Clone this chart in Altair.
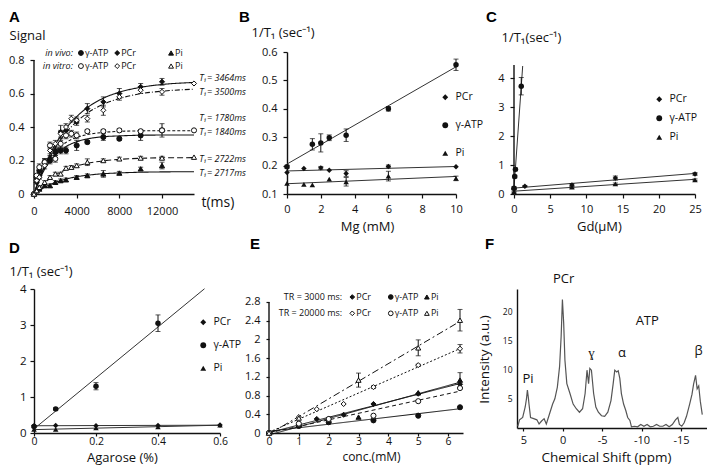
import altair as alt
import pandas as pd

FONT = "Open Sans"
LETTER_FONT = "Liberation Sans"
INK = "#111111"
FIT = "#333333"

# ======================= DATA =======================
A_X_TICKS = [0, 4000, 8000, 12000]
A_Y_TICKS = [0, 0.2, 0.4, 0.6, 0.8]
A_SERIES = ["vivo γ-ATP", "vivo PCr", "vivo Pi", "vitro γ-ATP", "vitro PCr", "vitro Pi"]
A_T_VIVO = [0, 250, 500, 1000, 1500, 2000, 2500, 3000, 4000, 5000, 6500, 8000, 10000, 12000]
A_VIVO_GATP = [0, 0.10, 0.14, 0.19, 0.20, 0.25, 0.26, 0.26, 0.29, 0.31, 0.34, 0.33, 0.35, 0.38]
A_VIVO_GATP_ERR = [0, 0.01, 0.02, 0.02, 0.02, 0.02, 0.02, 0.02, 0.03, 0.01, 0.02, 0.01, 0.03, 0.04]
A_VIVO_PCR = [0, 0.07, 0.11, 0.19, 0.21, 0.26, 0.37, 0.38, 0.43, 0.51, 0.55, 0.60, 0.64, 0.67]
A_VIVO_PCR_ERR = [0, 0.01, 0.02, 0.02, 0.02, 0.02, 0.04, 0.03, 0.02, 0.03, 0.03, 0.03, 0.02, 0.02]
A_VIVO_PI = [0, 0.02, 0.03, 0.05, 0.05, 0.07, 0.08, 0.085, 0.10, 0.11, 0.12, 0.125, 0.15, 0.17]
A_VIVO_PI_ERR = [0, 0, 0.01, 0.01, 0.01, 0.01, 0.01, 0.01, 0.01, 0.01, 0.02, 0.01, 0.01, 0.02]
A_T_VITRO = [0, 250, 500, 1000, 1500, 2000, 2500, 3000, 3500, 4000, 5000, 6500, 8000, 10000, 12000, 15000]
A_VITRO_GATP = [0, 0.11, 0.16, 0.19, 0.29, 0.21, 0.30, 0.35, 0.36, 0.35, 0.375, 0.375, 0.38, 0.375, 0.38, 0.38]
A_VITRO_GATP_ERR = [0, 0.01, 0.02, 0.02, 0.02, 0.02, 0.02, 0.02, 0.02, 0.02, 0.01, 0.01, 0.01, 0.01, 0.01, 0]
A_VITRO_PCR = [0, 0.08, 0.10, 0.17, 0.26, 0.30, 0.36, 0.40, 0.45, 0.44, 0.45, 0.50, 0.58, 0.62, 0.61, 0.66]
A_VITRO_PCR_ERR = [0, 0.01, 0.01, 0.02, 0.02, 0.02, 0.02, 0.02, 0.02, 0.02, 0.02, 0.03, 0.02, 0.02, 0.02, 0]
A_VITRO_PI = [0, 0.02, 0.04, 0.07, 0.10, 0.12, 0.12, 0.155, 0.16, 0.17, 0.19, 0.20, 0.21, 0.215, 0.215, 0.22]
A_VITRO_PI_ERR = [0, 0, 0.01, 0.01, 0.01, 0.01, 0.01, 0.01, 0.01, 0.01, 0.02, 0.01, 0.01, 0.01, 0.01, 0]
A_FIT_T = [0, 500, 1000, 1500, 2000, 3000, 4000, 5000, 6500, 8000, 10000, 12000, 15000]
A_FIT_VIVO_GATP = [0, 0.084, 0.148, 0.196, 0.233, 0.283, 0.312, 0.329, 0.342, 0.347, 0.351, 0.352, 0.352]
A_FIT_VIVO_PCR = [0, 0.091, 0.169, 0.237, 0.296, 0.391, 0.462, 0.516, 0.572, 0.608, 0.637, 0.654, 0.666]
A_FIT_VIVO_PI = [0, 0.022, 0.041, 0.056, 0.069, 0.089, 0.103, 0.112, 0.121, 0.126, 0.130, 0.132, 0.133]
A_FIT_VITRO_GATP = [0, 0.093, 0.162, 0.215, 0.255, 0.308, 0.338, 0.355, 0.368, 0.374, 0.377, 0.378, 0.378]
A_FIT_VITRO_PCR = [0, 0.085, 0.158, 0.221, 0.276, 0.366, 0.432, 0.483, 0.536, 0.570, 0.599, 0.614, 0.626]
A_FIT_VITRO_PI = [0, 0.037, 0.067, 0.092, 0.113, 0.146, 0.168, 0.183, 0.198, 0.207, 0.213, 0.216, 0.217]
A_T1_TEXT = ["T₁= 3464ms", "T₁= 3500ms", "T₁= 1780ms", "T₁= 1840ms", "T₁= 2722ms", "T₁= 2717ms"]

SPECIES = ["PCr", "γ-ATP", "Pi"]
B_X_TICKS = [0, 2, 4, 6, 8, 10]
B_Y_TICKS = [0.1, 0.2, 0.3, 0.4, 0.5, 0.6]
B_PCR_X = [0, 1, 2, 2.5, 3.5, 6, 10]
B_PCR = [0.176, 0.190, 0.192, 0.184, 0.172, 0.197, 0.196]
B_PCR_ERR = [0, 0, 0.005, 0, 0.01, 0.005, 0]
B_GATP_X = [0, 1.5, 2, 2.5, 3.5, 6, 10]
B_GATP = [0.196, 0.275, 0.280, 0.298, 0.307, 0.400, 0.555]
B_GATP_ERR = [0.005, 0.02, 0.032, 0.01, 0.022, 0.008, 0.02]
B_PI_X = [0, 1, 1.5, 2.5, 3.5, 6, 10]
B_PI = [0.137, 0.134, 0.132, 0.152, 0.143, 0.163, 0.155]
B_PI_ERR = [0, 0, 0, 0, 0.015, 0.017, 0.008]

C_X_TICKS = [0, 5, 10, 15, 20, 25]
C_Y_TICKS = [0, 1, 2, 3, 4]
C_PCR_X = [0, 1.5, 8, 14, 25]
C_PCR = [0.18, 0.27, 0.31, 0.55, 0.69]
C_PCR_ERR = [0.02, 0.02, 0.05, 0.07, 0.05]
C_GATP_X = [0, 0.1, 0.2, 1]
C_GATP = [0.2, 0.6, 0.85, 3.72]
C_GATP_ERR = [0.05, 0.05, 0.05, 0.3]
C_PI_X = [0, 8, 14, 25]
C_PI = [0.08, 0.24, 0.35, 0.49]
C_PI_ERR = [0.02, 0.04, 0.03, 0.03]

D_X_TICKS = [0, 0.2, 0.4, 0.6]
D_Y_TICKS = [0, 1, 2, 3, 4]
D_PCR_X = [0, 0.07, 0.2, 0.4, 0.6]
D_PCR = [0.20, 0.21, 0.20, 0.21, 0.22]
D_PCR_ERR = [0, 0, 0, 0, 0]
D_GATP_X = [0, 0.07, 0.2, 0.4]
D_GATP = [0.18, 0.67, 1.30, 3.05]
D_GATP_ERR = [0.03, 0.03, 0.10, 0.23]
D_PI_X = [0, 0.07, 0.2, 0.4, 0.6]
D_PI = [0.10, 0.10, 0.14, 0.17, 0.22]
D_PI_ERR = [0, 0, 0, 0, 0]

E_X_TICKS = [0, 1, 2, 3, 4, 5, 6]
E_Y_TICKS = [0, 0.4, 0.8, 1.2, 1.6, 2.0, 2.4, 2.8]
E_SERIES = ["3000 PCr", "3000 γ-ATP", "3000 Pi", "20000 PCr", "20000 γ-ATP", "20000 Pi"]
E_3000_PCR_X = [0, 1, 1.6, 2, 2.5, 3.5, 5, 6.4]
E_3000_PCR = [0, 0.18, 0.30, 0.30, 0.39, 0.62, 0.84, 1.04]
E_3000_GATP_X = [0, 1, 2, 3.5, 5, 6.4]
E_3000_GATP = [0, 0.15, 0.23, 0.27, 0.37, 0.55]
E_3000_PI_X = [0, 1, 3, 5, 6.4]
E_3000_PI = [0, 0.17, 0.34, 0.86, 1.13]
E_3000_PI_ERR = [0, 0, 0, 0, 0.16]
E_20000_PCR_X = [0, 1, 1.6, 2.5, 3.5, 5, 6.4]
E_20000_PCR = [0, 0.34, 0.51, 0.62, 0.98, 1.45, 1.80]
E_20000_PCR_ERR = [0, 0, 0, 0, 0.03, 0.02, 0.09]
E_20000_GATP_X = [0, 1, 2, 3.5, 5, 6.4]
E_20000_GATP = [0, 0.20, 0.30, 0.37, 0.68, 0.96]
E_20000_PI_X = [0, 1, 3, 5, 6.4]
E_20000_PI = [0, 0.32, 1.13, 1.82, 2.41]
E_20000_PI_ERR = [0, 0, 0.15, 0.17, 0.23]

F_X_TICKS = [5, 0, -5, -10, -15]
F_Y_TICKS = [5, 10, 15, 20]
F_PPM = [5.7, 5.48, 5.08, 4.76, 4.6, 4.48, 4.36, 4.28, 4.08, 3.68, 3.28, 3.0, 2.68, 2.36, 2.08,
         1.68, 1.28, 1.0, 0.68, 0.4, 0.2, 0.04, -0.12, -0.28, -0.52, -0.92, -1.32, -1.72, -2.12,
         -2.52, -2.84, -3.08, -3.28, -3.44, -3.64, -3.92, -4.2, -4.52, -4.92, -5.32, -5.72, -6.12,
         -6.4, -6.6, -6.84, -7.04, -7.24, -7.44, -7.72, -8.0, -8.24, -8.52, -8.72, -9.1, -9.5,
         -9.9, -10.3, -10.7, -11.1, -11.5, -11.9, -12.3, -12.7, -13.1, -13.5, -13.9, -14.3,
         -14.6, -14.8, -15.1, -15.4, -15.7, -16.1, -16.4, -16.6, -16.85, -17.05, -17.25, -17.45, -17.7]
F_INT = [0.3, 1.4, 1.8, 3.6, 5.0, 6.5, 5.2, 4.1, 1.8, 1.6, 1.4, 0.7, 1.2, 1.6, 0.7,
         2.4, 4.1, 5.0, 7.0, 10.5, 15.7, 22.0, 18.0, 11.6, 7.6, 5.9, 4.1, 3.3, 2.7,
         3.3, 5.9, 9.9, 7.6, 10.2, 9.9, 5.9, 3.6, 2.7, 2.1, 2.0, 2.7, 4.7,
         7.6, 9.9, 9.6, 9.8, 8.5, 5.9, 4.1, 3.0, 1.8, 1.3, 0.2, 0.3, 0.2,
         0.6, 0.3, 0.6, 0.2, 0.3, 0.6, 0.3, 0.3, 0.6, 0.2, 0.6, 1.4,
         1.8, 0.6, 0.3, 0.9, 2.0, 4.1, 5.8, 7.5, 9.0, 6.7, 7.2, 4.6, 2.3]
F_PEAK_LABELS = ["PCr", "Pi", "ɣ", "α", "ATP", "β"]

# ================= ANNOTATION PLACEMENT (data coordinates) =================
A_T1_X = 15500
A_T1_Y = [0.692, 0.612, 0.452, 0.372, 0.209, 0.128]
A_LEG_SYM_X = [4400, 7800, 12850]
A_LEG_ROW_Y = [0.842, 0.764]
A_LEG_ROW_X = 3650
E_LEG_SYM_X = [2.79, 4.08, 5.29]
E_LEG_ROW_Y = [2.906, 2.557]
E_LEG_ROW_X = 2.45
F_PEAK_X = [-0.12, 4.4, -3.64, -7.52, -10.72, -17.24]
F_PEAK_Y = [25.5, 8.4, 12.9, 12.9, 18.3, 13.1]

SHAPE_OF = {"PCr": "diamond", "γ-ATP": "circle", "Pi": "triangle-up"}
LABEL_EXPR = "'' + datum.value"


def axis(**kw):
    base = dict(grid=False, domainColor=INK, domainWidth=1.4, tickColor=INK, tickWidth=1.2,
                tickSize=4, labelFont=FONT, labelFontSize=11, labelColor=INK, labelPadding=5,
                titleFont=FONT, titleFontSize=13, titleFontWeight="normal", titleColor=INK,
                labelExpr=LABEL_EXPR, labelFlush=False, labelOverlap=False)
    base.update(kw)
    return alt.Axis(**base)


def make_xy(xs, xax, ys, yax):
    def X(f):
        return alt.X(f, type="quantitative", scale=xs, axis=xax)

    def Y(f):
        return alt.Y(f, type="quantitative", scale=ys, axis=yax)
    return X, Y


def long_df(groups):
    rows = []
    for name, xs, ys, es in groups:
        if es is None:
            es = [0] * len(xs)
        for x, y, e in zip(xs, ys, es):
            rows.append({"x": x, "y": y, "err": e, "s": name})
    return pd.DataFrame(rows)


def err_layers(df, X, Y, cap=5):
    e = alt.Chart(df).transform_filter("datum.err > 0").transform_calculate(
        lo="datum.y - datum.err", hi="datum.y + datum.err")
    bar = e.mark_rule(color=INK, strokeWidth=1).encode(x=X("x"), y=Y("lo"), y2="hi:Q")
    lo = e.mark_tick(orient="horizontal", size=cap, thickness=1, color=INK).encode(x=X("x"), y=Y("lo"))
    hi = e.mark_tick(orient="horizontal", size=cap, thickness=1, color=INK).encode(x=X("x"), y=Y("hi"))
    return [bar, lo, hi]


def letter(ch, x, y):
    return alt.Chart(pd.DataFrame({"t": [ch]})).mark_text(
        font=LETTER_FONT, fontSize=15, fontWeight="bold", align="left", baseline="alphabetic",
        color="#000").encode(text="t:N", x=alt.value(x), y=alt.value(y))


def y_line(X, Y, top):
    return alt.Chart(pd.DataFrame({"x": [0], "y": [0], "y2": [top]})).mark_rule(
        color=INK, strokeWidth=1.4).encode(x=X("x"), y=Y("y"), y2="y2:Q")


def species_panel(groups, X, Y, legend, extents, lt, lpos, w, h, extra=None):
    df = long_df(groups)
    layers = []
    for sp in SPECIES:
        kw = {}
        if sp in extents:
            kw["extent"] = extents[sp]
        layers.append(alt.Chart(df).transform_filter(alt.datum.s == sp)
                      .transform_regression("x", "y", **kw)
                      .mark_line(color=FIT, strokeWidth=1).encode(x=X("x"), y=Y("y")))
    layers += err_layers(df, X, Y)
    layers.append(alt.Chart(df).mark_point(filled=True, size=30, opacity=1, color=INK).encode(
        x=X("x"), y=Y("y"),
        shape=alt.Shape("s:N", scale=alt.Scale(domain=SPECIES, range=[SHAPE_OF[s] for s in SPECIES]),
                        legend=legend)))
    if extra:
        layers += extra
    layers.append(letter(lt, *lpos))
    return alt.layer(*layers).properties(width=w, height=h)


def sp_legend(x, y, rowpad):
    return alt.Legend(title=None, orient="none", legendX=x, legendY=y, direction="vertical",
                      labelFont=FONT, labelFontSize=10.5, labelColor=INK, symbolSize=34,
                      symbolFillColor=INK, symbolStrokeColor=INK, symbolStrokeWidth=0,
                      rowPadding=rowpad, labelOffset=5, padding=0)


# ---- Panel A ----
XA, YA = make_xy(
    alt.Scale(domain=[0, 15000], nice=False),
    axis(values=A_X_TICKS, title="t(ms)", titleX=167, titleY=8, titleAlign="left",
         titleBaseline="middle", titleFontSize=14, labelPadding=7),
    alt.Scale(domain=[0, 0.848], nice=False),
    axis(values=A_Y_TICKS, title="Signal", titleAngle=0, titleX=-25, titleY=-16.5,
         titleAlign="left", titleBaseline="middle", labelPadding=6, domain=False))

a_pts = long_df([
    ("vivo γ-ATP", A_T_VIVO, A_VIVO_GATP, A_VIVO_GATP_ERR),
    ("vivo PCr", A_T_VIVO, A_VIVO_PCR, A_VIVO_PCR_ERR),
    ("vivo Pi", A_T_VIVO, A_VIVO_PI, A_VIVO_PI_ERR),
    ("vitro γ-ATP", A_T_VITRO, A_VITRO_GATP, A_VITRO_GATP_ERR),
    ("vitro PCr", A_T_VITRO, A_VITRO_PCR, A_VITRO_PCR_ERR),
    ("vitro Pi", A_T_VITRO, A_VITRO_PI, A_VITRO_PI_ERR),
])
a_fit = long_df([
    ("vivo γ-ATP", A_FIT_T, A_FIT_VIVO_GATP, None),
    ("vivo PCr", A_FIT_T, A_FIT_VIVO_PCR, None),
    ("vivo Pi", A_FIT_T, A_FIT_VIVO_PI, None),
    ("vitro γ-ATP", A_FIT_T, A_FIT_VITRO_GATP, None),
    ("vitro PCr", A_FIT_T, A_FIT_VITRO_PCR, None),
    ("vitro Pi", A_FIT_T, A_FIT_VITRO_PI, None),
])
A_SHAPES = alt.Scale(domain=A_SERIES, range=["circle", "diamond", "triangle-up"] * 2)
A_FILLS = alt.Scale(domain=A_SERIES, range=[INK] * 3 + ["white"] * 3)
A_DASH = alt.Scale(domain=A_SERIES, range=[[1, 0], [1, 0], [1, 0], [3, 2], [5, 2, 1, 2], [6, 3]])
a_leg = pd.DataFrame([
    {"x": A_LEG_SYM_X[i], "y": A_LEG_ROW_Y[r], "s": f"{row} {sp}", "label": sp}
    for r, row in enumerate(["vivo", "vitro"]) for i, sp in enumerate(["γ-ATP", "PCr", "Pi"])])
a_leg_rows = pd.DataFrame({"x": [A_LEG_ROW_X] * 2, "y": A_LEG_ROW_Y, "label": ["in vivo:", "in vitro:"]})
a_t1 = pd.DataFrame({"x": [A_T1_X] * 6, "y": A_T1_Y, "label": A_T1_TEXT})


def a_points(df, size=26):
    return alt.Chart(df).mark_point(filled=True, size=size, opacity=1, stroke=INK, strokeWidth=1).encode(
        x=XA("x"), y=YA("y"),
        shape=alt.Shape("s:N", scale=A_SHAPES, legend=None),
        fill=alt.Fill("s:N", scale=A_FILLS, legend=None))


panelA = alt.layer(
    y_line(XA, YA, max(A_Y_TICKS)),
    alt.Chart(a_fit).mark_line(color=INK, strokeWidth=1.1, interpolate="monotone").encode(
        x=XA("x"), y=YA("y"), detail="s:N",
        strokeDash=alt.StrokeDash("s:N", scale=A_DASH, legend=None)),
    *err_layers(a_pts, XA, YA, cap=5),
    a_points(a_pts),
    a_points(a_leg, size=24),
    alt.Chart(a_leg).mark_text(font=FONT, fontSize=9, align="left", baseline="middle", dx=4, color=INK)
    .encode(x=XA("x"), y=YA("y"), text="label:N"),
    alt.Chart(a_leg_rows).mark_text(font=FONT, fontSize=9, fontStyle="italic", align="right",
                                    baseline="middle", color=INK)
    .encode(x=XA("x"), y=YA("y"), text="label:N"),
    alt.Chart(a_t1).mark_text(font=FONT, fontSize=9, fontStyle="italic", align="left",
                              baseline="middle", color=INK)
    .encode(x=XA("x"), y=YA("y"), text="label:N"),
    letter("A", -25, -30),
).properties(width=160, height=142)

# ---- Panel B ----
XB, YB = make_xy(
    alt.Scale(domain=[0, 10], nice=False),
    axis(values=B_X_TICKS, title="Mg (mM)", titleY=32, titleX=80, titleBaseline="middle", labelPadding=5),
    alt.Scale(domain=[0.1, 0.6], nice=False, zero=False),
    axis(values=B_Y_TICKS, title="1/T₁ (sec⁻¹)", titleAngle=0, titleX=-36, titleY=-20,
         titleAlign="left", titleBaseline="middle", labelPadding=6))
panelB = species_panel(
    [("PCr", B_PCR_X, B_PCR, B_PCR_ERR), ("γ-ATP", B_GATP_X, B_GATP, B_GATP_ERR),
     ("Pi", B_PI_X, B_PI, B_PI_ERR)],
    XB, YB, sp_legend(153, 40, 17), {}, "B", (-48, -30), 169, 142)

# ---- Panel C ----
XC, YC = make_xy(
    alt.Scale(domain=[0, 25], nice=False),
    axis(values=C_X_TICKS, title="Gd(µM)", titleY=32, titleX=85, titleBaseline="middle", labelPadding=5),
    alt.Scale(domain=[0, 4.9], nice=False),
    axis(values=C_Y_TICKS, title="1/T₁(sec⁻¹)", titleAngle=0, titleX=-13, titleY=-15,
         titleAlign="left", titleBaseline="middle", labelPadding=6, domain=False))
panelC = species_panel(
    [("PCr", C_PCR_X, C_PCR, C_PCR_ERR), ("γ-ATP", C_GATP_X, C_GATP, C_GATP_ERR),
     ("Pi", C_PI_X, C_PI, C_PI_ERR)],
    XC, YC, sp_legend(140, 42, 8), {"γ-ATP": [0, 1.2]}, "C", (-28, -30), 181, 142,
    extra=[y_line(XC, YC, 4.45)])

# ---- Panel D ----
XD, YD = make_xy(
    alt.Scale(domain=[0, 0.6], nice=False),
    axis(values=D_X_TICKS, title="Agarose (%)", titleY=24.5, titleX=88, titleBaseline="middle",
         titleFontSize=13, labelPadding=0, labelFontSize=10.5, tickSize=3),
    alt.Scale(domain=[0, 4], nice=False),
    axis(values=D_Y_TICKS, title="1/T₁ (sec⁻¹)", titleAngle=0, titleX=-25, titleY=-18,
         titleAlign="left", titleBaseline="middle", labelPadding=4, labelFontSize=11.5))
panelD = species_panel(
    [("PCr", D_PCR_X, D_PCR, D_PCR_ERR), ("γ-ATP", D_GATP_X, D_GATP, D_GATP_ERR),
     ("Pi", D_PI_X, D_PI, D_PI_ERR)],
    XD, YD, sp_legend(164, 28, 12), {"γ-ATP": [0, 0.55]}, "D", (-25, -36), 186, 144)

# ---- Panel E ----
XE, YE = make_xy(
    alt.Scale(domain=[0, 6.5], nice=False),
    axis(values=E_X_TICKS, title="conc.(mM)", titleY=23, titleX=102, titleBaseline="middle",
         titleFontSize=12, labelPadding=0, tickSize=3, labelFontSize=10.5),
    alt.Scale(domain=[0, 3.077], nice=False),
    axis(values=E_Y_TICKS, title=None, labelPadding=6, tickSize=3, domain=False))
e_df = long_df([
    ("3000 PCr", E_3000_PCR_X, E_3000_PCR, None),
    ("3000 γ-ATP", E_3000_GATP_X, E_3000_GATP, None),
    ("3000 Pi", E_3000_PI_X, E_3000_PI, E_3000_PI_ERR),
    ("20000 PCr", E_20000_PCR_X, E_20000_PCR, E_20000_PCR_ERR),
    ("20000 γ-ATP", E_20000_GATP_X, E_20000_GATP, None),
    ("20000 Pi", E_20000_PI_X, E_20000_PI, E_20000_PI_ERR),
])
E_SHAPES = alt.Scale(domain=E_SERIES, range=["diamond", "circle", "triangle-up"] * 2)
E_FILLS = alt.Scale(domain=E_SERIES, range=[INK] * 3 + ["white"] * 3)
E_DASH = alt.Scale(domain=E_SERIES, range=[[1, 0], [1, 0], [1, 0], [2, 2], [4, 3], [7, 3, 2, 3]])
e_leg = pd.DataFrame([
    {"x": E_LEG_SYM_X[i], "y": E_LEG_ROW_Y[r], "s": f"{row} {sp}", "label": sp}
    for r, row in enumerate(["3000", "20000"]) for i, sp in enumerate(SPECIES)])
e_leg_rows = pd.DataFrame({"x": [E_LEG_ROW_X] * 2, "y": E_LEG_ROW_Y,
                           "label": ["TR = 3000 ms:", "TR = 20000 ms:"]})


def e_points(df, size=26):
    return alt.Chart(df).mark_point(filled=True, size=size, opacity=1, stroke=INK, strokeWidth=1).encode(
        x=XE("x"), y=YE("y"),
        shape=alt.Shape("s:N", scale=E_SHAPES, legend=None),
        fill=alt.Fill("s:N", scale=E_FILLS, legend=None))


panelE = alt.layer(
    y_line(XE, YE, max(E_Y_TICKS)),
    alt.Chart(e_df).transform_regression("x", "y", groupby=["s"]).mark_line(color=INK, strokeWidth=1)
    .encode(x=XE("x"), y=YE("y"), detail="s:N",
            strokeDash=alt.StrokeDash("s:N", scale=E_DASH, legend=None)),
    *err_layers(e_df, XE, YE, cap=5),
    e_points(e_df),
    e_points(e_leg, size=22),
    alt.Chart(e_leg).mark_text(font=FONT, fontSize=9, align="left", baseline="middle", dx=4, color=INK)
    .encode(x=XE("x"), y=YE("y"), text="label:N"),
    alt.Chart(e_leg_rows).mark_text(font=FONT, fontSize=9, align="right", baseline="middle", color=INK)
    .encode(x=XE("x"), y=YE("y"), text="label:N"),
    letter("E", -19, -40),
).properties(width=194, height=144)

# ---- Panel F ----
XF, YF = make_xy(
    alt.Scale(domain=[-18.3, 5.8], reverse=True, nice=False, zero=False),
    axis(values=F_X_TICKS, title="Chemical Shift (ppm)", titleY=29,
         titleX=89, titleBaseline="middle", titleFontSize=13.5, labelPadding=3, tickSize=3),
    alt.Scale(domain=[0, 23.8], nice=False),
    axis(values=F_Y_TICKS, title="Intensity (a.u.)", titleX=-33, titleY=70, titleAngle=270,
         titleAlign="center", titleBaseline="middle", titleFontSize=13.5, labelFontSize=8.5,
         tickSize=0, labelPadding=5))
f_df = pd.DataFrame({"x": F_PPM, "y": F_INT})
f_lab = pd.DataFrame({"x": F_PEAK_X, "y": F_PEAK_Y, "label": F_PEAK_LABELS})
panelF = alt.layer(
    alt.Chart(f_df).mark_line(color="#555555", strokeWidth=1.2).encode(x=XF("x"), y=YF("y")),
    alt.Chart(f_lab).mark_text(font=FONT, fontSize=13, align="center", baseline="middle", color=INK)
    .encode(x=XF("x"), y=YF("y"), text="label:N"),
    letter("F", -32, -40),
).properties(width=190, height=139)


def spacer(w, h):
    return alt.Chart(pd.DataFrame({"k": [0]})).mark_point(opacity=0).properties(width=w, height=h)


INDEP = dict(shape="independent", fill="independent", strokeDash="independent")

row1 = alt.hconcat(panelA, spacer(93, 142), panelB, spacer(58, 142), panelC,
                   spacing=0, bounds="flush").resolve_scale(**INDEP).resolve_legend(shape="independent")
row2 = alt.hconcat(panelD, spacer(49, 144), panelE, spacer(54, 144), panelF,
                   spacing=0, bounds="flush").resolve_scale(**INDEP).resolve_legend(shape="independent")
chart = (alt.vconcat(row1, row2, spacing=4)
         .resolve_scale(**INDEP).resolve_legend(shape="independent")
         .configure_view(stroke=None)
         .properties(padding={"top": 2, "left": 0, "right": 0, "bottom": 0}, background="white"))

chart.save("out.html", embed_options={"renderer": "svg", "actions": False})
